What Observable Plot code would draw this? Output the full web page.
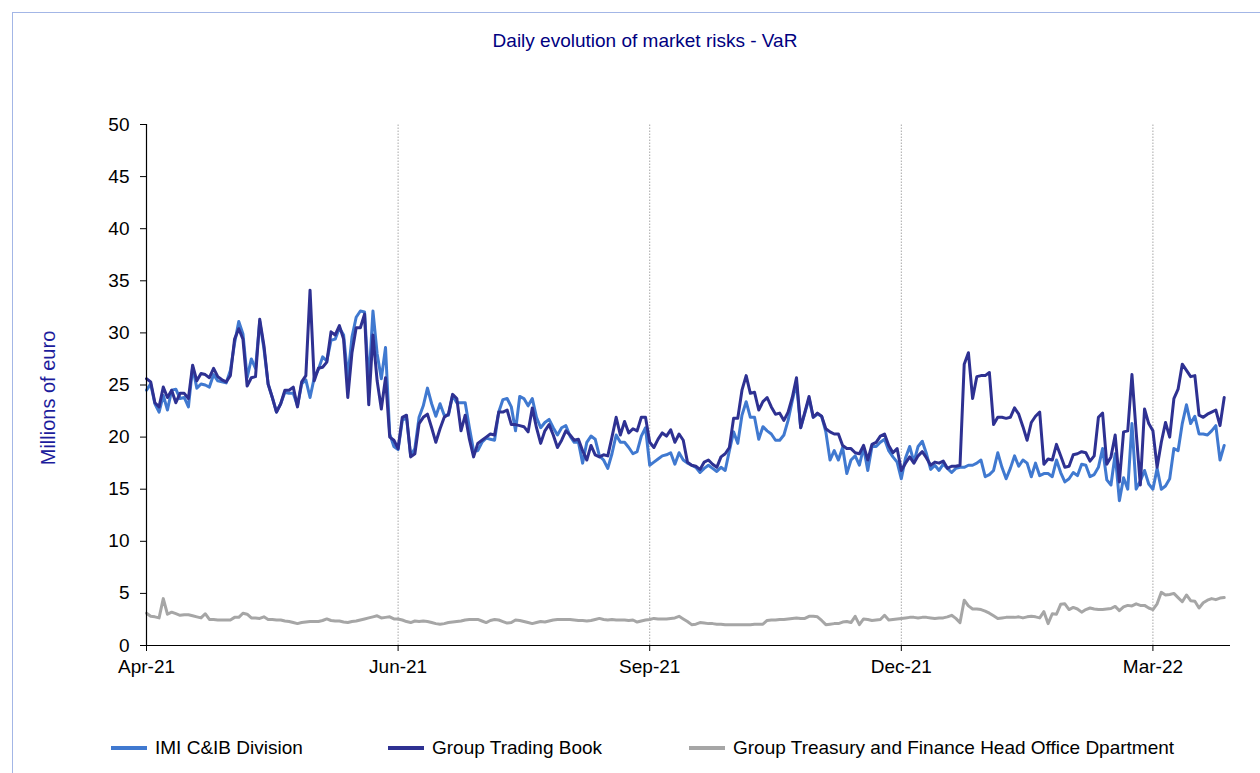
<!DOCTYPE html>
<html>
<head>
<meta charset="utf-8">
<script src="https://cdn.jsdelivr.net/npm/d3@7"></script>
<script src="https://cdn.jsdelivr.net/npm/@observablehq/plot@0.6"></script>
<style>
  html, body { margin: 0; padding: 0; background: #fff; }
  body { width: 1260px; height: 773px; position: relative; overflow: hidden;
         font-family: "Liberation Sans", Arial, sans-serif; }
  #frame { position: absolute; left: 12px; top: 12px; width: 1260px; height: 780px;
           border-top: 1px solid #a3b6e6; border-left: 1px solid #a3b6e6; }
  #title { position: absolute; left: 0; width: 1290px; top: 31px; text-align: center;
           font-size: 19px; line-height: 20px; color: #000080; }
  #chart { position: absolute; left: 0; top: 0; }
  .leg { position: absolute; top: 738px; font-size: 19px; line-height: 20px; color: #000;
         display: flex; align-items: center; white-space: nowrap; }
  .sw { width: 36px; height: 4px; margin-right: 8px; }
</style>
</head>
<body>
<div id="frame"></div>
<div id="title">Daily evolution of market risks - VaR</div>
<div id="chart"></div>
<div id="legend"></div>
<script>
// ---- tick labels (category axis, every 60 trading days) ----
const tickIdx = [0, 60, 120, 180, 240];
const tickLabels = ["Apr-21", "Jun-21", "Sep-21", "Dec-21", "Mar-22"];
const yTicks = [0, 5, 10, 15, 20, 25, 30, 35, 40, 45, 50];

const seriesNames = ["IMI C&IB Division", "Group Trading Book", "Group Treasury and Finance Head Office Dpartment"];
const seriesColors = ["#4079d0", "#2e3192", "#a6a6a6"];

// ---- daily VaR, millions of euro ----
const imi = [
24.5,25.1,23.2,22.4,24.0,22.6,24.5,24.6,23.7,23.8,22.9,26.7,24.7,25.1,25.0,24.8,26.0,25.4,25.3,25.2,
26.4,29.0,31.1,29.9,25.7,27.5,26.6,31.1,28.5,25.1,23.8,22.4,23.2,24.3,24.2,24.2,23.0,25.1,25.5,23.8,
25.7,26.5,27.7,27.3,29.3,29.4,30.5,29.8,25.7,29.6,31.5,32.1,32.0,25.1,32.1,28.0,25.6,28.6,20.3,19.1,
18.8,21.6,21.9,18.2,18.9,21.9,23.0,24.7,23.2,22.0,23.2,22.1,22.1,24.0,23.3,23.3,23.3,20.9,18.7,18.7,
19.5,19.9,19.8,19.7,22.4,23.6,23.7,22.9,20.6,23.9,23.7,23.0,23.7,21.9,20.9,21.4,21.7,20.9,20.2,20.9,
21.1,20.1,19.5,19.5,17.5,19.5,20.1,19.8,18.2,17.8,17.0,18.4,20.2,19.5,19.5,19.0,18.4,18.6,20.1,20.9,
17.3,17.6,17.9,18.2,18.3,18.5,17.4,18.5,17.8,17.5,17.3,17.1,16.6,17.0,17.3,17.0,16.7,17.1,16.8,18.7,
20.5,19.4,22.1,23.4,21.9,21.9,19.8,21.0,20.6,20.3,19.7,19.7,20.2,21.6,23.5,25.2,20.9,22.3,23.7,21.9,
22.2,22.0,20.5,17.8,18.7,17.8,19.0,16.5,17.8,18.2,17.3,19.0,16.8,19.1,19.1,19.5,19.8,18.7,18.1,17.6,
16.0,18.0,19.1,17.6,19.1,19.6,18.4,16.9,17.3,16.8,17.4,17.0,16.6,17.0,17.1,17.1,17.3,17.3,17.5,17.8,
16.2,16.4,16.8,18.5,17.1,16.0,17.0,18.2,17.2,17.8,17.5,16.2,17.5,16.3,16.5,16.5,16.2,17.8,16.6,15.7,
16.0,16.6,16.3,17.4,17.3,16.2,16.4,17.1,18.9,15.9,15.4,18.4,13.9,16.1,15.0,21.3,15.0,15.8,16.8,15.5,
15.0,17.0,15.0,15.3,16.0,18.9,18.7,21.3,23.1,21.3,22.0,20.3,20.3,20.2,20.6,21.1,17.8,19.2];

const gtb = [
25.6,25.3,23.3,22.9,24.8,23.8,24.5,23.3,24.2,24.2,23.7,26.9,25.4,26.1,26.0,25.7,26.6,25.8,25.5,25.3,
25.9,29.4,30.4,29.4,24.9,25.7,25.8,31.3,28.8,25.1,23.8,22.4,23.2,24.5,24.5,24.8,22.9,25.3,25.9,34.1,
25.4,26.6,26.7,27.2,30.1,29.8,30.7,29.4,23.8,28.1,30.5,30.5,31.8,23.1,29.8,25.4,22.7,25.7,20.0,19.7,
18.9,21.9,22.1,18.1,18.4,21.3,21.9,22.2,20.9,19.5,20.8,21.9,22.2,24.1,23.7,20.6,22.1,19.8,18.1,19.4,
19.7,20.0,20.3,20.2,22.4,22.4,22.6,21.2,21.2,21.1,21.0,20.5,22.8,20.9,19.4,20.6,21.2,20.2,19.0,19.7,
20.6,20.2,19.7,19.8,18.7,17.8,19.2,18.3,18.1,18.3,18.2,20.0,21.9,20.2,21.5,20.4,20.8,20.6,21.9,21.9,
19.5,19.0,19.8,20.4,20.1,20.7,19.5,20.3,19.7,17.6,17.3,17.2,16.9,17.6,17.8,17.4,17.1,18.1,18.4,19.0,
21.8,21.8,24.5,25.9,24.2,24.3,22.6,23.4,23.8,22.9,22.2,22.3,21.6,22.4,23.8,25.7,20.9,22.4,23.9,21.9,
22.3,22.0,20.8,20.5,20.3,20.3,19.2,18.9,18.9,18.5,18.4,19.2,17.8,19.3,19.5,20.1,20.3,19.2,18.5,18.9,
16.8,17.5,18.1,17.5,18.2,18.6,18.0,17.3,17.6,17.5,17.7,17.0,17.2,17.2,17.3,27.0,28.1,23.7,25.8,25.9,
25.9,26.2,21.2,21.9,21.9,21.8,21.9,22.8,22.2,21.0,19.7,21.4,22.0,22.4,17.4,17.9,17.8,19.3,18.2,17.1,
17.2,18.3,18.4,18.6,18.5,17.7,18.2,21.9,22.3,17.4,18.1,20.2,15.7,20.5,20.6,26.0,20.5,15.4,22.7,21.3,
20.6,17.1,19.5,21.4,20.0,23.7,24.6,27.0,26.4,25.8,25.9,22.1,21.9,22.2,22.4,22.6,21.1,23.8];

const treasury = [
3.1,2.8,2.75,2.65,4.5,3.0,3.2,3.05,2.9,2.95,2.95,2.85,2.75,2.65,3.05,2.5,2.5,2.45,2.45,2.45,
2.45,2.7,2.7,3.1,3.0,2.65,2.65,2.6,2.75,2.5,2.5,2.45,2.45,2.35,2.3,2.2,2.1,2.2,2.25,2.3,
2.3,2.3,2.4,2.55,2.4,2.35,2.35,2.25,2.2,2.3,2.35,2.45,2.55,2.65,2.75,2.85,2.65,2.7,2.75,2.55,
2.55,2.45,2.3,2.2,2.35,2.3,2.35,2.3,2.2,2.1,2.05,2.1,2.2,2.25,2.3,2.35,2.45,2.5,2.5,2.5,
2.35,2.2,2.4,2.5,2.45,2.3,2.15,2.2,2.45,2.4,2.3,2.2,2.1,2.2,2.3,2.25,2.35,2.45,2.5,2.5,
2.5,2.5,2.45,2.4,2.4,2.35,2.4,2.5,2.6,2.5,2.45,2.5,2.45,2.45,2.45,2.4,2.45,2.25,2.35,2.45,
2.5,2.6,2.55,2.55,2.55,2.6,2.65,2.8,2.55,2.3,2.0,2.05,2.2,2.15,2.1,2.1,2.05,2.05,2.0,2.0,
2.0,2.0,2.0,2.0,2.0,2.05,2.05,2.05,2.4,2.45,2.45,2.5,2.5,2.55,2.6,2.65,2.6,2.6,2.8,2.8,
2.75,2.4,2.0,2.05,2.1,2.1,2.25,2.3,2.2,2.8,2.0,2.55,2.5,2.4,2.45,2.5,2.9,2.45,2.5,2.55,
2.6,2.65,2.7,2.7,2.65,2.7,2.7,2.65,2.6,2.65,2.65,2.75,2.9,2.6,2.2,4.35,3.8,3.5,3.5,3.45,
3.3,3.1,2.85,2.6,2.65,2.7,2.7,2.7,2.75,2.65,2.75,2.8,2.75,2.65,3.25,2.1,3.05,3.0,3.95,4.0,
3.45,3.65,3.5,3.2,3.45,3.6,3.5,3.45,3.45,3.5,3.55,3.75,3.35,3.7,3.85,3.8,4.0,3.85,3.85,3.6,
3.45,4.0,5.1,4.85,4.9,5.0,4.6,4.2,4.85,4.3,4.25,3.6,4.1,4.35,4.5,4.4,4.55,4.6];

const seriesValues = [imi, gtb, treasury];

// long table built from the arrays (day index = trading-day position)
const rows = [];
[2, 0, 1].forEach(s => {
  seriesValues[s].forEach((v, i) => rows.push({day: i, value: v, series: seriesNames[s]}));
});

const labelOf = new Map(tickIdx.map((d, i) => [d, tickLabels[i]]));
const font = "'Liberation Sans', Arial, sans-serif";

const chart = Plot.plot({
  width: 1260,
  height: 700,
  marginLeft: 146,
  marginRight: 30,
  marginTop: 124,
  marginBottom: 55,
  style: {fontFamily: font, fontSize: "19px", color: "#000", background: "transparent", overflow: "visible"},
  x: {domain: [0, 258.5], axis: null, label: null},
  y: {domain: [0, 50], axis: null, label: null},
  color: {domain: seriesNames, range: seriesColors},
  marks: [
    Plot.ruleX(tickIdx.slice(1), {y1: 0, y2: 50, stroke: "#a8a8a8", strokeWidth: 1, strokeDasharray: "1.5,1.5"}),
    Plot.lineY(rows, {x: "day", y: "value", z: "series", stroke: "series", strokeWidth: 3, strokeLinejoin: "round"}),
    Plot.ruleY([0], {stroke: "#000", strokeWidth: 1.2}),
    Plot.ruleX([0], {y1: 0, y2: 50, stroke: "#000", strokeWidth: 1.2}),
    Plot.axisY(yTicks, {tickSize: 6, tickPadding: 11, fontSize: 19, stroke: "#000", label: null}),
    Plot.axisX(tickIdx, {tickSize: 6, tickPadding: 8, fontSize: 19, stroke: "#000", label: null,
      tickFormat: d => labelOf.get(d)}),
    Plot.text(["Millions of euro"], {frameAnchor: "left", dx: -98, dy: 13, rotate: -90,
      textAnchor: "middle", lineAnchor: "middle", fill: "#1c1c9c", fontSize: 20})
  ]
});
document.getElementById("chart").appendChild(chart);

// legend
const legLeft = [111, 388, 689];
const legend = document.getElementById("legend");
seriesNames.forEach((name, i) => {
  const item = document.createElement("div");
  item.className = "leg";
  item.style.left = legLeft[i] + "px";
  const sw = document.createElement("span");
  sw.className = "sw";
  sw.style.background = seriesColors[i];
  const tx = document.createElement("span");
  tx.textContent = name;
  item.appendChild(sw);
  item.appendChild(tx);
  legend.appendChild(item);
});
</script>
</body>
</html>
